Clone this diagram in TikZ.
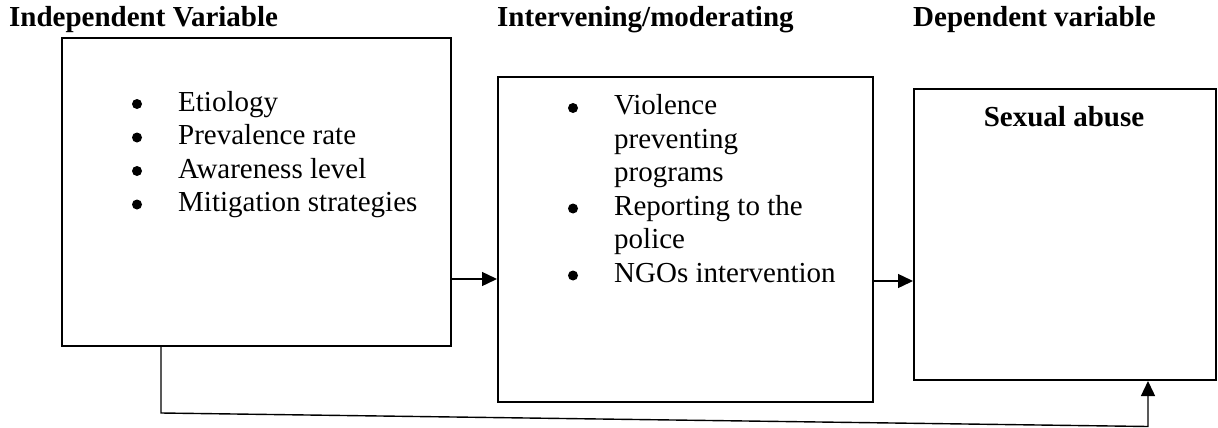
\documentclass[tikz,border=0pt]{standalone}
\usepackage{fontspec}
\setmainfont{Liberation Serif}
\usetikzlibrary{arrows.meta}
\begin{document}
\begin{tikzpicture}[x=1pt,y=-1pt,
  box/.style={draw,line width=2pt,inner sep=0pt,anchor=north west},
  hdr/.style={anchor=base west,font=\fontsize{29}{34}\selectfont\bfseries,inner sep=0pt},
  item/.style={anchor=base west,font=\fontsize{29}{34}\selectfont,inner sep=0pt},
  dot/.style={circle,fill,inner sep=0pt,minimum size=10pt},
  arr/.style={line width=1.4pt,-{Triangle[length=15pt,width=14pt]}}]
\useasboundingbox (0,0) rectangle (1218,428);
% headers
\node[hdr] (h1) at (9,27) {Independent Variable};
\node[hdr] (h2) at (497,27) {Intervening/moderating};
\node[hdr] (h3) at (913,27) {Dependent variable};
% boxes
\node[box,minimum width=389pt,minimum height=308pt] (b1) at (61,37) {};
\node[box,minimum width=375pt,minimum height=325pt] (b2) at (497,76) {};
\node[box,minimum width=302pt,minimum height=291pt] (b3) at (913,88) {};
% box 1 items
\node[dot] (d11) at (137,104) {};
\node[item] (t11) at (178,111) {Etiology};
\node[dot] (d12) at (137,137.5) {};
\node[item] (t12) at (178,144.5) {Prevalence rate};
\node[dot] (d13) at (137,171) {};
\node[item] (t13) at (178,178) {Awareness level};
\node[dot] (d14) at (137,204.5) {};
\node[item] (t14) at (178,211.5) {Mitigation strategies};
% box 2 items
\node[dot] (d21) at (573,108) {};
\node[item] (t21) at (614,114.5) {Violence};
\node[item] (t22) at (614,148) {preventing};
\node[item] (t23) at (614,181.5) {programs};
\node[dot] (d24) at (573,208.5) {};
\node[item] (t24) at (614,215) {Reporting to the};
\node[item] (t25) at (614,248.5) {police};
\node[dot] (d26) at (573,275.5) {};
\node[item] (t26) at (614,282) {NGOs intervention};
% box 3
\node[hdr,anchor=base] (t31) at (1064,126) {Sexual abuse};
% arrows
\coordinate (p1) at (0,279);
\coordinate (p2) at (0,281);
\draw[arr] (b1.east |- p1) -- (b2.west |- p1);
\draw[arr] (b2.east |- p2) -- (b3.west |- p2);
\coordinate (c1) at (161,413);
\coordinate (c2) at (1148,426.5);
\draw[arr] (b1.south -| c1) -- (c1) -- (c2) -- (b3.south -| c2);
\end{tikzpicture}
\end{document}
